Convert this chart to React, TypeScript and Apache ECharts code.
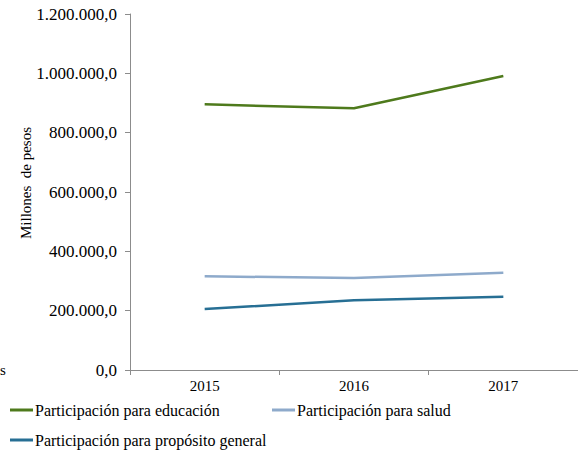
import React, { useEffect, useRef } from "react";
import * as echarts from "echarts";

const years = ["2015", "2016", "2017"];
const educacion = [895600, 882100, 991000];
const salud = [315800, 310100, 328000];
const general = [205600, 234800, 247100];
const seriesNames = [
  "Participación para educación",
  "Participación para salud",
  "Participación para propósito general",
];
const yTicks = [0, 200000, 400000, 600000, 800000, 1000000, 1200000];
const yName = "Millones  de pesos";

const FONT = "'Times New Roman', 'Liberation Serif', 'DejaVu Serif', serif";

function fmt(v: number): string {
  const s = Math.round(v).toString().replace(/\B(?=(\d{3})+(?!\d))/g, ".");
  return s + ",0";
}

export default function App() {
  const ref = useRef<HTMLDivElement>(null);
  useEffect(() => {
    if (!ref.current) return;
    const chart = echarts.init(ref.current, undefined, { renderer: "svg" });
    const colors = ["#4E7A1C", "#8EAACB", "#276F94"];
    const legendBase = {
      orient: "horizontal" as const,
      itemWidth: 23,
      itemHeight: 3,
      icon: "rect",
      itemGap: 2,
      textStyle: { fontFamily: FONT, fontSize: 16, color: "#000", padding: [0, 0, 0, -3] },
      padding: 0,
    };
    chart.setOption({
      animation: false,
      color: colors,
      grid: { left: 130, right: 0, top: 14, bottom: 88, containLabel: false },
      xAxis: {
        type: "category",
        data: years,
        boundaryGap: true,
        axisLine: { lineStyle: { color: "#8c8c8c", width: 1 } },
        axisTick: { show: true, length: 5, lineStyle: { color: "#8c8c8c" } },
        axisLabel: { fontFamily: FONT, fontSize: 15, color: "#000", margin: 8 },
      },
      yAxis: {
        type: "value",
        min: yTicks[0],
        max: yTicks[yTicks.length - 1],
        interval: 200000,
        splitLine: { show: false },
        axisLine: { show: true, lineStyle: { color: "#8c8c8c", width: 1 } },
        axisTick: { show: true, length: 5, lineStyle: { color: "#8c8c8c" } },
        axisLabel: {
          fontFamily: FONT,
          fontSize: 17,
          color: "#000",
          margin: 13,
          formatter: (v: number) => fmt(v),
        },
      },
      legend: [
        { ...legendBase, left: 10, top: 402, data: [seriesNames[0]] },
        { ...legendBase, left: 272, top: 402, data: [seriesNames[1]] },
        { ...legendBase, left: 10, top: 432, data: [seriesNames[2]] },
      ],
      graphic: [
        {
          type: "text",
          x: 26,
          y: 183,
          rotation: Math.PI / 2,
          style: {
            text: yName,
            font: `15px ${FONT}`,
            fill: "#000",
            align: "center",
            verticalAlign: "middle",
          },
        },
        {
          type: "text",
          left: 0,
          top: 362,
          style: { text: "s", font: `15px ${FONT}`, fill: "#000" },
        },
      ],
      series: [
        { name: seriesNames[0], type: "line", data: educacion, showSymbol: false, lineStyle: { width: 2.5 } },
        { name: seriesNames[1], type: "line", data: salud, showSymbol: false, lineStyle: { width: 2.5 } },
        { name: seriesNames[2], type: "line", data: general, showSymbol: false, lineStyle: { width: 2.5 } },
      ],
    });
    return () => chart.dispose();
  }, []);
  return (
    <div
      ref={ref}
      style={{ position: "fixed", left: 0, top: 0, width: 578, height: 458, background: "#fff" }}
    />
  );
}
